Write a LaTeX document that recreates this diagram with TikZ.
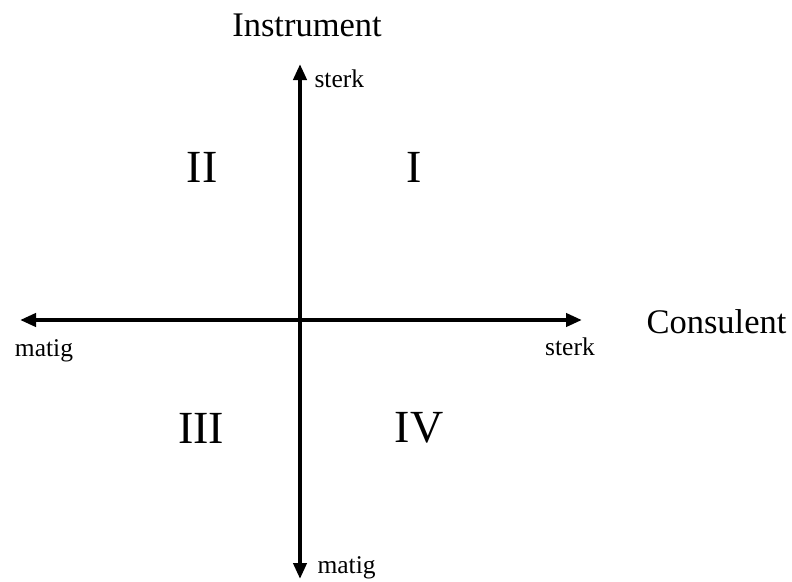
\documentclass[tikz,border=0pt]{standalone}
\usepackage{fontspec}
\setmainfont{Liberation Serif}
\usepackage{tikz}
\usetikzlibrary{arrows.meta}

\tikzset{
  axis/.style={line width=4pt,{Triangle[length=16pt,width=13pt]}-{Triangle[length=16pt,width=13pt]}},
  bigtext/.style={font=\fontsize{34.5}{40}\selectfont},
  endtext/.style={font=\fontsize{25.5}{30}\selectfont},
  quadrant/.style={font=\fontsize{46}{52}\selectfont}
}

\begin{document}
\begin{tikzpicture}[x=1pt,y=-1pt]
    \useasboundingbox (0,0) rectangle (792,581);
    % axes
    \coordinate (ytop) at (300,64);
    \coordinate (ybot) at (300,579);
    \coordinate (xleft) at (20,320);
    \coordinate (xright) at (582,320);
    \draw[axis] (ybot) -- (ytop);
    \draw[axis] (xleft) -- (xright);

    \node[bigtext] (instr) at (307,25) {Instrument};
    \node[bigtext,anchor=west] (cons) at (643,322) {Consulent};

    \node[endtext,anchor=west] (ysterk) at (311,79) {sterk};
    \node[endtext,anchor=west] (ymatig) at (314,568) {matig};
    \node[endtext] (xsterk) at (570,347) {sterk};
    \node[endtext] (xmatig) at (44,351) {matig};

    \node[quadrant] (qII) at (202,167) {II};
    \node[quadrant] (qI) at (414,167) {I};
    \node[quadrant] (qIII) at (201,428) {III};
    \node[quadrant] (qIV) at (419,428) {IV};
\end{tikzpicture}
\end{document}
